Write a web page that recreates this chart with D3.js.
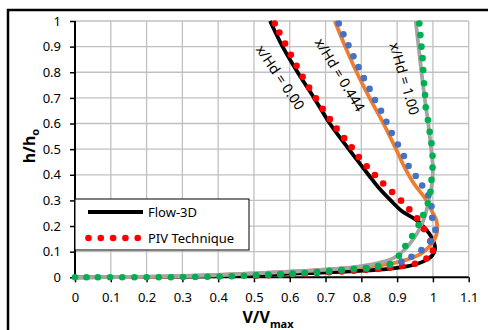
<!DOCTYPE html>
<html>
<head>
<meta charset="utf-8">
<script src="https://cdn.jsdelivr.net/npm/d3@7"></script>
<style>
  body { margin: 0; background: #fff; }
  text { font-family: "Noto Sans", "Liberation Sans", sans-serif; }
</style>
</head>
<body>
<script>
// tick values
var xTicks = [0, 0.1, 0.2, 0.3, 0.4, 0.5, 0.6, 0.7, 0.8, 0.9, 1, 1.1];
var yTicks = [0, 0.1, 0.2, 0.3, 0.4, 0.5, 0.6, 0.7, 0.8, 0.9, 1];

// Flow-3D profiles, [V/Vmax, h/ho]
var flow000 = [[0.545,1],[0.58,0.9],[0.622,0.8],[0.668,0.7],[0.712,0.6],[0.765,0.5],[0.82,0.4],[0.848,0.35],[0.882,0.3],[0.912,0.26],[0.952,0.225],[0.972,0.2],[0.99,0.17],[1.002,0.14],[1.006,0.11],[0.998,0.085],[0.978,0.065],[0.95,0.05],[0.915,0.04],[0.87,0.032],[0.82,0.027],[0.72,0.02],[0.6,0.014],[0.5,0.009],[0.4,0.005],[0.3,0.003],[0.15,0.001],[0,0]];
var flow444 = [[0.726,1],[0.755,0.9],[0.787,0.8],[0.823,0.7],[0.862,0.6],[0.897,0.5],[0.917,0.44],[0.945,0.37],[0.982,0.3],[1.0,0.25],[1.01,0.22],[1.012,0.18],[1.005,0.15],[0.99,0.12],[0.965,0.09],[0.93,0.07],[0.89,0.055],[0.84,0.045],[0.78,0.038],[0.71,0.031],[0.6,0.022],[0.5,0.015],[0.4,0.009],[0.3,0.004],[0.15,0.001],[0,0]];
var flow100 = [[0.952,1],[0.96,0.9],[0.968,0.8],[0.977,0.7],[0.987,0.6],[0.995,0.5],[1.0,0.43],[0.997,0.36],[0.988,0.3],[0.98,0.25],[0.97,0.21],[0.955,0.17],[0.935,0.13],[0.915,0.1],[0.89,0.075],[0.86,0.06],[0.83,0.05],[0.78,0.04],[0.7,0.03],[0.6,0.022],[0.5,0.015],[0.4,0.009],[0.3,0.005],[0.15,0.002],[0,0]];

// PIV measurements, [V/Vmax, h/ho]
var piv000 = [[0.558,0.99],[0.571,0.955],[0.587,0.912],[0.603,0.868],[0.619,0.825],[0.636,0.782],[0.654,0.74],[0.673,0.698],[0.692,0.657],[0.712,0.617],[0.731,0.58],[0.752,0.543],[0.773,0.507],[0.793,0.469],[0.815,0.433],[0.838,0.399],[0.861,0.366],[0.886,0.333],[0.911,0.299],[0.934,0.265],[0.956,0.23],[0.975,0.188],[0.993,0.141],[1.0,0.104],[0.982,0.073],[0.95,0.053],[0.914,0.044],[0.88,0.038],[0.847,0.033],[0.813,0.029],[0.779,0.026],[0.745,0.023],[0.71,0.02],[0.676,0.017],[0.642,0.014],[0.608,0.012],[0.574,0.01],[0.54,0.008],[0.506,0.006]];
var piv444 = [[0.737,0.99],[0.75,0.948],[0.764,0.905],[0.778,0.862],[0.792,0.82],[0.807,0.777],[0.823,0.735],[0.838,0.692],[0.855,0.65],[0.87,0.607],[0.885,0.563],[0.902,0.518],[0.919,0.473],[0.932,0.434],[0.952,0.395],[0.97,0.358],[0.987,0.32],[0.996,0.277],[0.998,0.232],[1.007,0.185],[0.994,0.14],[0.968,0.106],[0.94,0.08],[0.912,0.061],[0.88,0.049],[0.847,0.041],[0.813,0.036],[0.779,0.032],[0.745,0.028],[0.71,0.024],[0.676,0.02],[0.642,0.017],[0.608,0.014],[0.574,0.012],[0.54,0.01],[0.506,0.008]];
var piv100 = [[0.962,0.99],[0.965,0.945],[0.968,0.9],[0.971,0.855],[0.973,0.809],[0.975,0.757],[0.978,0.711],[0.98,0.663],[0.986,0.614],[0.991,0.568],[0.996,0.523],[0.999,0.474],[0.999,0.428],[0.996,0.38],[0.993,0.334],[0.986,0.289],[0.973,0.243],[0.96,0.204],[0.942,0.161],[0.923,0.122],[0.905,0.084],[0.88,0.052],[0.847,0.044],[0.815,0.035],[0.779,0.032],[0.745,0.028],[0.71,0.024],[0.676,0.02],[0.642,0.017],[0.608,0.015],[0.574,0.012],[0.54,0.01],[0.506,0.008],[0.472,0.006],[0.438,0.004],[0.404,0.003],[0.37,0.002],[0.336,0.001],[0.302,0.001],[0.268,0],[0.234,0],[0.2,0],[0.166,0],[0.132,0],[0.098,0],[0.064,0],[0.032,0],[0,0]];

var labels = [
    { text: "x/Hd = 0.00", v: 0.573, h: 0.78, angle: 56 },
    { text: "x/Hd = 0.444", v: 0.74, h: 0.79, angle: 59 },
    { text: "x/Hd = 1.00", v: 0.92, h: 0.775, angle: 74 }
];

var canvas = d3.select("body")
               .append("svg")
               .attr("width", 488)
               .attr("height", 330);

var x = d3.scaleLinear().domain([0, 1.1]).range([75, 468.7]);
var y = d3.scaleLinear().domain([0, 1]).range([277.3, 21]);

// outer frame
canvas.append("rect")
      .attr("x", 8).attr("y", 10)
      .attr("width", 486).attr("height", 330)
      .attr("fill", "none")
      .attr("stroke", "#000")
      .attr("stroke-width", 2.5);

// grid
canvas.selectAll("line.vgrid")
      .data(xTicks.slice(1))
      .enter()
            .append("line")
            .attr("x1", function(d) { return x(d); })
            .attr("x2", function(d) { return x(d); })
            .attr("y1", y(0))
            .attr("y2", y(1))
            .attr("stroke", "#c0c0c0")
            .attr("stroke-width", 1.3);

canvas.selectAll("line.hgrid")
      .data(yTicks.slice(1))
      .enter()
            .append("line")
            .attr("x1", x(0))
            .attr("x2", x(1.1))
            .attr("y1", function(d) { return y(d); })
            .attr("y2", function(d) { return y(d); })
            .attr("stroke", "#c0c0c0")
            .attr("stroke-width", 1.3);

// axes
var xAxis = canvas.append("g")
      .attr("transform", "translate(0," + y(0) + ")")
      .call(d3.axisBottom(x).tickValues(xTicks).tickSize(5).tickPadding(10).tickFormat(d3.format("")));
var yAxis = canvas.append("g")
      .attr("transform", "translate(" + x(0) + ",0)")
      .call(d3.axisLeft(y).tickValues(yTicks).tickSize(5).tickPadding(9).tickFormat(d3.format("")));

[xAxis, yAxis].forEach(function(a) {
    a.select(".domain").attr("stroke", "#000").attr("stroke-width", 2);
    a.selectAll(".tick line").attr("stroke", "#000").attr("stroke-width", 1.5);
    a.selectAll(".tick text")
     .attr("font-family", "Noto Sans, sans-serif")
     .attr("font-size", 13)
     .attr("fill", "#000");
});
xAxis.select(".domain").attr("d", "M" + x(0) + ",0H" + x(1.1));
yAxis.select(".domain").attr("d", "M0," + y(0) + "V" + y(1));

// Flow-3D lines
var line = d3.line()
             .x(function(d) { return x(d[0]); })
             .y(function(d) { return y(d[1]); })
             .curve(d3.curveCatmullRom.alpha(0.5));

canvas.append("path").datum(flow000).attr("d", line)
      .attr("fill", "none").attr("stroke", "#000").attr("stroke-width", 3.8);
canvas.append("path").datum(flow444).attr("d", line)
      .attr("fill", "none").attr("stroke", "#ed7d31").attr("stroke-width", 3.8);
canvas.append("path").datum(flow100).attr("d", line)
      .attr("fill", "none").attr("stroke", "#a5a5a5").attr("stroke-width", 3.8);

// PIV dots
function dots(data, colour) {
    canvas.append("g")
          .selectAll("circle")
          .data(data)
          .enter()
                .append("circle")
                .attr("cx", function(d) { return x(d[0]); })
                .attr("cy", function(d) { return y(d[1]); })
                .attr("r", 3.3)
                .attr("fill", colour);
}
dots(piv000, "#ff0000");
dots(piv444, "#4472c4");
dots(piv100, "#00b050");

// rotated profile labels
canvas.selectAll("text.lab")
      .data(labels)
      .enter()
            .append("text")
            .attr("transform", function(d) {
                return "translate(" + x(d.v) + "," + y(d.h) + ") rotate(" + d.angle + ")";
            })
            .attr("text-anchor", "middle")
            .attr("dy", "0.35em")
            .attr("font-size", 14)
            .text(function(d) { return d.text; });

// legend
canvas.append("rect")
      .attr("x", 75).attr("y", 199)
      .attr("width", 174).attr("height", 51)
      .attr("fill", "#fff")
      .attr("stroke", "#000")
      .attr("stroke-width", 1);
canvas.append("line")
      .attr("x1", 88).attr("x2", 143)
      .attr("y1", 212).attr("y2", 212)
      .attr("stroke", "#000").attr("stroke-width", 4);
canvas.append("g")
      .selectAll("circle")
      .data([0, 1, 2, 3, 4])
      .enter()
            .append("circle")
            .attr("cx", function(d) { return 88.5 + d * 12.3; })
            .attr("cy", 238)
            .attr("r", 3.3)
            .attr("fill", "#ff0000");
canvas.append("text").attr("x", 148).attr("y", 216.5)
      .attr("font-size", 13).text("Flow-3D");
canvas.append("text").attr("x", 148).attr("y", 242.5)
      .attr("font-size", 13).text("PIV Technique");

// axis titles
var xt = canvas.append("text")
      .attr("x", 268).attr("y", 323)
      .attr("text-anchor", "middle")
      .attr("font-weight", "bold")
      .attr("font-size", 16);
xt.append("tspan").text("V/V");
xt.append("tspan").attr("font-size", 11).attr("dy", 5).text("max");

var yt = canvas.append("text")
      .attr("transform", "translate(35,146) rotate(-90)")
      .attr("text-anchor", "middle")
      .attr("font-weight", "bold")
      .attr("font-size", 16);
yt.append("tspan").text("h/h");
yt.append("tspan").attr("font-size", 11).attr("dy", 4).text("o");
</script>
</body>
</html>
